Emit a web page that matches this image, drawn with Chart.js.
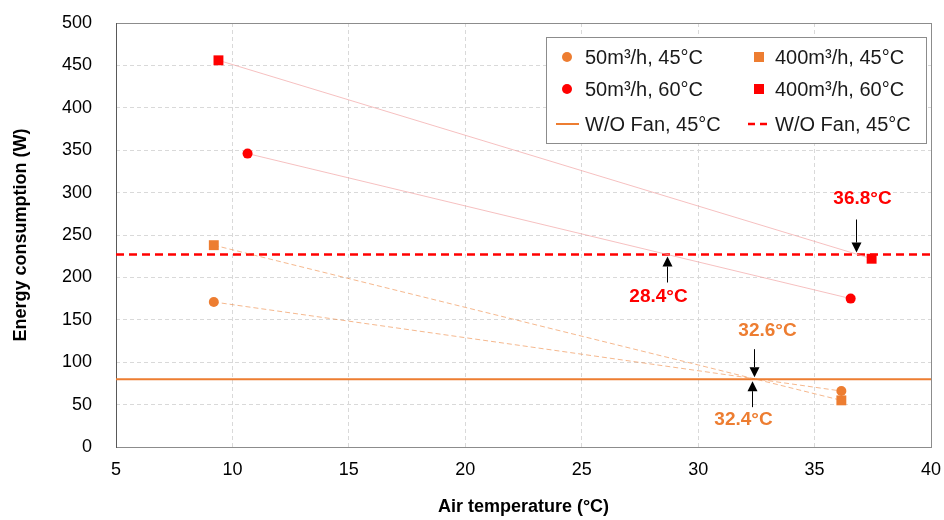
<!DOCTYPE html>
<html>
<head>
<meta charset="utf-8">
<script src="https://cdn.jsdelivr.net/npm/chart.js@4.4.0/dist/chart.umd.min.js"></script>
<style>
  html, body { margin: 0; padding: 0; background: #fff; }
  canvas { display: block; }
</style>
</head>
<body>
<canvas id="chart" width="944" height="520"></canvas>
<script>
// ---------- values ----------
const xMin = 5, xMax = 40, xStep = 5;
const yMin = 0, yMax = 500, yStep = 50;

const seriesNames = [
  "50m³/h, 45°C", "400m³/h, 45°C",
  "50m³/h, 60°C", "400m³/h, 60°C",
  "W/O Fan, 45°C", "W/O Fan, 45°C"
];

const orangeCircleX = [9.2, 36.15];
const orangeCircleY = [171, 66];
const orangeSquareX = [9.2, 36.15];
const orangeSquareY = [238, 55];
const redCircleX = [10.65, 36.55];
const redCircleY = [346, 175];
const redSquareX = [9.4, 37.45];
const redSquareY = [456, 222];

const noFanOrange = 80;   // solid orange line
const noFanRed = 227;     // dashed red line

// crossing annotations: where the arrow sits, the text, and which line it points at
const crossX = [36.8, 28.65, 32.4, 32.3];
const crossText = ["36.8°C", "28.4°C", "32.6°C", "32.4°C"];
const crossLevel = [noFanRed, noFanRed, noFanOrange, noFanOrange];
const crossDir = ["down", "up", "down", "up"];

// ---------- styles ----------
const ORANGE = "#ED7D31";
const RED = "#FF0000";
const FONT = "'Liberation Sans', Arial, sans-serif";
Chart.defaults.font.family = FONT;
Chart.defaults.color = "#000";

const pts = (xs, ys) => xs.map((x, i) => ({ x: x, y: ys[i] }));
const hline = v => [{ x: xMin, y: v }, { x: xMax, y: v }];

const datasets = [
  {
    label: seriesNames[0], data: pts(orangeCircleX, orangeCircleY),
    showLine: true, borderColor: "rgba(237,125,49,0.55)", borderWidth: 1, borderDash: [5, 3],
    pointStyle: "circle", pointRadius: 5, pointBackgroundColor: ORANGE, pointBorderWidth: 0,
    legendKind: "point"
  },
  {
    label: seriesNames[1], data: pts(orangeSquareX, orangeSquareY),
    showLine: true, borderColor: "rgba(237,125,49,0.55)", borderWidth: 1, borderDash: [5, 3],
    pointStyle: "rect", pointRadius: 7, pointBackgroundColor: ORANGE, pointBorderWidth: 0,
    legendKind: "point"
  },
  {
    label: seriesNames[2], data: pts(redCircleX, redCircleY),
    showLine: true, borderColor: "rgba(242,165,165,0.7)", borderWidth: 1,
    pointStyle: "circle", pointRadius: 5, pointBackgroundColor: RED, pointBorderWidth: 0,
    legendKind: "point"
  },
  {
    label: seriesNames[3], data: pts(redSquareX, redSquareY),
    showLine: true, borderColor: "rgba(242,165,165,0.7)", borderWidth: 1,
    pointStyle: "rect", pointRadius: 7, pointBackgroundColor: RED, pointBorderWidth: 0,
    legendKind: "point"
  },
  {
    label: seriesNames[4], data: hline(noFanOrange),
    showLine: true, borderColor: ORANGE, borderWidth: 2, pointRadius: 0,
    legendKind: "line"
  },
  {
    label: seriesNames[5], data: hline(noFanRed),
    showLine: true, borderColor: RED, borderWidth: 2.5, borderDash: [8, 5], pointRadius: 0,
    legendKind: "line"
  }
];

// plot frame (gray box round the plot area)
const framePlugin = {
  id: "frame",
  beforeDatasetsDraw(chart) {
    const { ctx, chartArea: a } = chart;
    ctx.save();
    ctx.strokeStyle = "#8c8c8c";
    ctx.lineWidth = 1;
    ctx.strokeRect(Math.round(a.left) + 0.5, Math.round(a.top) + 0.5,
                   Math.round(a.right - a.left), Math.round(a.bottom - a.top));
    ctx.strokeStyle = "#595959";
    ctx.beginPath();
    ctx.moveTo(Math.round(a.left) + 0.5, a.top);
    ctx.lineTo(Math.round(a.left) + 0.5, a.bottom + 1);
    ctx.stroke();
    ctx.restore();
  }
};

// arrows + temperature labels
const arrowPlugin = {
  id: "arrows",
  afterDatasetsDraw(chart) {
    const { ctx } = chart;
    const xs = chart.scales.x, ys = chart.scales.y;
    const labelDx = [6, -9, 13, -9];
    const arrowLen = [33, 26, 28, 26];
    const labelGap = [21, 14, 18, 13];
    const colors = [RED, RED, ORANGE, ORANGE];
    ctx.save();
    crossX.forEach((v, i) => {
      const px = Math.round(xs.getPixelForValue(v)) + 0.5;
      const py = ys.getPixelForValue(crossLevel[i]);
      const down = crossDir[i] === "down";
      const tip = down ? py - 2 : py + 2;
      const tail = down ? tip - arrowLen[i] : tip + arrowLen[i];
      const head = down ? tip - 10 : tip + 10;
      ctx.strokeStyle = "#000";
      ctx.fillStyle = "#000";
      ctx.lineWidth = 1;
      ctx.beginPath();
      ctx.moveTo(px, tail);
      ctx.lineTo(px, head);
      ctx.stroke();
      ctx.beginPath();
      ctx.moveTo(px, tip);
      ctx.lineTo(px - 5, head);
      ctx.lineTo(px + 5, head);
      ctx.closePath();
      ctx.fill();

      ctx.font = "bold 19px " + FONT;
      ctx.fillStyle = colors[i];
      ctx.textAlign = "center";
      ctx.textBaseline = "middle";
      const ty = down ? tail - labelGap[i] : tail + labelGap[i];
      ctx.fillText(crossText[i], px + labelDx[i], ty);
    });
    ctx.restore();
  }
};

// two-column legend box
const legendPlugin = {
  id: "boxLegend",
  afterDraw(chart) {
    const { ctx } = chart;
    const bx = 546, by = 37, bw = 380, bh = 106;
    const rows = [20, 52, 87];
    const markX = [21, 213];
    const textX = [39, 229];
    ctx.save();
    ctx.fillStyle = "#fff";
    ctx.fillRect(bx, by, bw, bh);
    ctx.strokeStyle = "#8c8c8c";
    ctx.lineWidth = 1;
    ctx.strokeRect(bx + 0.5, by + 0.5, bw, bh);
    chart.data.datasets.forEach((ds, i) => {
      const col = i % 2, row = Math.floor(i / 2);
      const cy = by + rows[row];
      const mx = bx + markX[col];
      ctx.fillStyle = ds.pointBackgroundColor || ds.borderColor;
      if (ds.legendKind === "point") {
        if (ds.pointStyle === "circle") {
          ctx.beginPath();
          ctx.arc(mx, cy, 5, 0, Math.PI * 2);
          ctx.fill();
        } else {
          ctx.fillRect(mx - 5, cy - 5, 10, 10);
        }
      } else {
        ctx.strokeStyle = ds.borderColor;
        ctx.lineWidth = ds.borderWidth;
        ctx.setLineDash(ds.borderDash ? [7, 5] : []);
        ctx.beginPath();
        ctx.moveTo(mx - 11, cy);
        ctx.lineTo(mx + 12, cy);
        ctx.stroke();
        ctx.setLineDash([]);
      }
      ctx.font = "20px " + FONT;
      ctx.fillStyle = "#1a1a1a";
      ctx.textAlign = "left";
      ctx.textBaseline = "middle";
      ctx.fillText(ds.label, bx + textX[col], cy + 1);
    });
    ctx.restore();
  }
};

new Chart(document.getElementById("chart"), {
  type: "scatter",
  data: { datasets: datasets },
  options: {
    responsive: false,
    animation: false,
    layout: { padding: { top: 23, right: 13, left: 0, bottom: 0 } },
    plugins: {
      legend: { display: false },
      tooltip: { enabled: false }
    },
    scales: {
      x: {
        type: "linear", min: xMin, max: xMax,
        ticks: { stepSize: xStep, font: { size: 18 }, padding: 12, color: "#000" },
        grid: { color: "#d9d9d9", drawTicks: false },
        border: { display: false, dash: [4, 3] },
        title: {
          display: true, text: "Air temperature (°C)",
          font: { size: 18, weight: "bold" }, padding: { top: 0, bottom: 2 }
        },
        afterFit: s => { s.height = 73; s.paddingLeft = 0; s.paddingRight = 0; }
      },
      y: {
        type: "linear", min: yMin, max: yMax,
        ticks: { stepSize: yStep, font: { size: 18 }, padding: 24, color: "#000" },
        grid: { color: "#d9d9d9", drawTicks: false },
        border: { display: false, dash: [4, 3] },
        title: {
          display: true, text: "Energy consumption (W)",
          font: { size: 18, weight: "bold" }, padding: { top: 10, bottom: 0 }
        },
        afterFit: s => { s.width = 116; s.paddingTop = 0; s.paddingBottom = 0; }
      }
    }
  },
  plugins: [framePlugin, arrowPlugin, legendPlugin]
});
</script>
</body>
</html>
